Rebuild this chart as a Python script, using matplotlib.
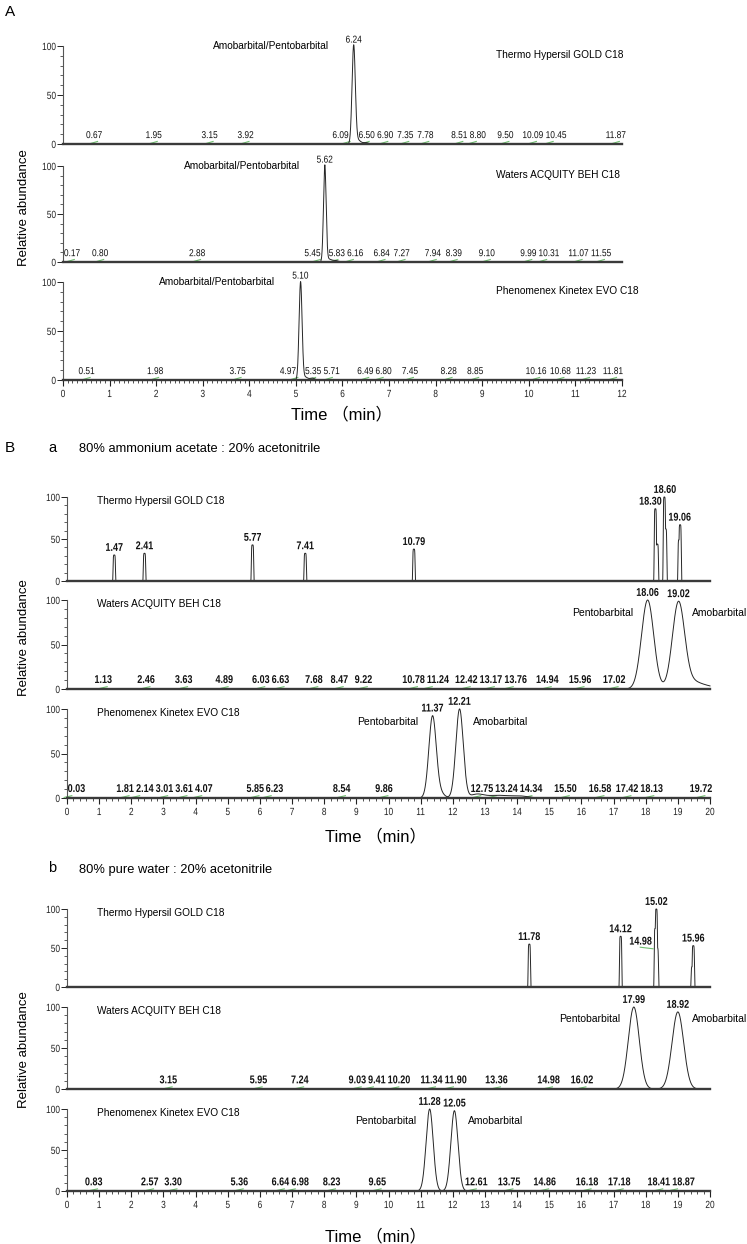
import numpy as np
import matplotlib
matplotlib.use('Agg')
import matplotlib.pyplot as plt
from matplotlib import font_manager
from matplotlib.font_manager import FontProperties
from matplotlib.ticker import MultipleLocator
from matplotlib.path import Path
from matplotlib.patheffects import AbstractPathEffect
from matplotlib.transforms import Affine2D

# ============================ DATA ============================
# ---- Panel A : 0-12 min, Amobarbital/Pentobarbital co-eluting ----
a_columns = ['Thermo Hypersil GOLD C18', 'Waters ACQUITY BEH C18', 'Phenomenex Kinetex EVO C18']
a_compound = 'Amobarbital/Pentobarbital'
a_peak_rt = [6.24, 5.62, 5.10]
a_peak_height = [100, 100, 100]
a_peak_sigma = [0.035, 0.028, 0.032]
a_tail_rt = [[6.33, 6.50], [5.70, 5.85], [5.20, 5.35]]
a_tail_height = [[4, 1.5], [3, 1.5], [3, 2]]
a_tail_sigma = [[0.06, 0.05], [0.06, 0.06], [0.05, 0.05]]
a_minor_rt = [
    [0.67, 1.95, 3.15, 3.92, 6.09, 6.50, 6.90, 7.35, 7.78, 8.51, 8.80, 9.50, 10.09, 10.45, 11.87],
    [0.17, 0.80, 2.88, 5.45, 5.83, 6.16, 6.84, 7.27, 7.94, 8.39, 9.10, 9.99, 10.31, 11.07, 11.55],
    [0.51, 1.98, 3.75, 4.97, 5.35, 5.71, 6.49, 6.80, 7.45, 8.28, 8.85, 10.16, 10.68, 11.23, 11.81],
]

# ---- Panel B a : 80% ammonium acetate ----
ba_title = '80% ammonium acetate : 20% acetonitrile'
ba_thermo_spike_rt = [1.47, 2.41, 5.77, 7.41, 10.79, 18.30, 18.36, 18.58, 18.62, 19.04, 19.07]
ba_thermo_spike_h = [31, 33, 43, 33, 38, 86, 44, 100, 62, 49, 67]
ba_thermo_label_rt = [1.47, 2.41, 5.77, 7.41, 10.79, 18.30, 18.60, 19.06]
ba_thermo_label_text = ['1.47', '2.41', '5.77', '7.41', '10.79', '18.30', '18.60', '19.06']
ba_thermo_label_h = [31, 33, 43, 33, 38, 86, 100, 67]

ba_waters_rt = [18.06, 19.02, 19.45, 19.90]
ba_waters_h = [100, 97, 7, 3]
ba_waters_sigma = [0.19, 0.19, 0.25, 0.30]
ba_waters_labels = ['18.06', '19.02']
ba_waters_minor = [1.13, 2.46, 3.63, 4.89, 6.03, 6.63, 7.68, 8.47, 9.22, 10.78, 11.24,
                   12.42, 13.17, 13.76, 14.94, 15.96, 17.02]

ba_phen_rt = [11.37, 11.62, 12.21, 12.75, 13.40, 14.10]
ba_phen_h = [92, 5, 100, 4, 3, 2]
ba_phen_sigma = [0.115, 0.12, 0.115, 0.20, 0.35, 0.25]
ba_phen_labels = ['11.37', '12.21']
ba_phen_minor = [0.03, 1.81, 2.14, 3.01, 3.61, 4.07, 5.85, 6.23, 8.54, 9.86, 12.75, 13.24,
                 14.34, 15.50, 16.58, 17.42, 18.13, 19.72]

# ---- Panel B b : 80% pure water ----
bb_title = '80% pure water : 20% acetonitrile'
bb_thermo_spike_rt = [14.38, 17.22, 18.30, 18.33, 18.36, 19.45, 19.48]
bb_thermo_spike_h = [55, 65, 75, 100, 50, 26, 53]
bb_thermo_label_rt = [14.38, 17.22, 18.28, 18.33, 19.48]
bb_thermo_label_text = ['11.78', '14.12', '14.98', '15.02', '15.96']
bb_thermo_label_h = [55, 65, 50, 100, 53]

bb_waters_rt = [17.63, 19.00]
bb_waters_h = [100, 94]
bb_waters_sigma = [0.17, 0.18]
bb_waters_labels = ['17.99', '18.92']
bb_waters_minor = [3.15, 5.95, 7.24, 9.03, 9.41, 10.20, 11.34, 11.90, 13.36, 14.98, 16.02]

bb_phen_rt = [11.28, 12.05]
bb_phen_h = [100, 98]
bb_phen_sigma = [0.11, 0.11]
bb_phen_labels = ['11.28', '12.05']
bb_phen_minor = [0.83, 2.57, 3.30, 5.36, 6.64, 6.98, 8.23, 9.65, 12.61, 13.75, 14.86,
                 16.18, 17.18, 18.41, 18.87]

b_columns = ['Thermo Hypersil GOLD C18', 'Waters ACQUITY BEH C18', 'Phenomenex Kinetex EVO C18']

# ============================ FONTS / HELPERS ============================
W, H = 747, 1244
_names = {f.name for f in font_manager.fontManager.ttflist}
SANS = 'Liberation Sans' if 'Liberation Sans' in _names else 'DejaVu Sans'


class GlyphScale(AbstractPathEffect):
    """Scale text glyphs (narrow, tall chromatography-software look)."""

    def __init__(self, sx=1.0, sy=1.0, anchor='center'):
        super().__init__()
        self.sx, self.sy, self.anchor = sx, sy, anchor

    def draw_path(self, renderer, gc, tpath, affine, rgbFace=None):
        v = tpath.vertices
        if tpath.codes is not None:
            v = v[(tpath.codes != Path.CLOSEPOLY) & (tpath.codes != Path.STOP)]
        if len(v) == 0:
            renderer.draw_path(gc, tpath, affine, rgbFace)
            return
        p = affine.transform(v)
        xs, ys = p[:, 0], p[:, 1]
        if self.anchor == 'left':
            ax0 = xs.min()
        elif self.anchor == 'right':
            ax0 = xs.max()
        else:
            ax0 = 0.5 * (xs.min() + xs.max())
        ay0 = ys.min()
        aff = affine + Affine2D().translate(-ax0, -ay0).scale(self.sx, self.sy).translate(ax0, ay0)
        renderer.draw_path(gc, tpath, aff, rgbFace)


fp_num_a = FontProperties(family=SANS, size=6.0)
fp_num_b = FontProperties(family=SANS, size=6.5, weight='bold')
fp_tick = FontProperties(family=SANS, size=7.5)
fp_name = FontProperties(family=SANS, size=7.3)
fp_comp = FontProperties(family=SANS, size=7.5)
PE_A = [GlyphScale(1.0, 1.2, 'center')]
PE_B = [GlyphScale(1.0, 1.25, 'center')]
PE_B_R = [GlyphScale(1.0, 1.25, 'right')]
GREEN = '#6fbf6f'
TRACE = '#262626'

fig = plt.figure(figsize=(W / 100, H / 100), dpi=100)
renderer = fig.canvas.get_renderer()


def rect(x0, x1, y100, y0):
    return [x0 / W, 1 - y0 / H, (x1 - x0) / W, (y0 - y100) / H]


def make_axes(xr, yr, xmax, bottom, minor_step):
    ax = fig.add_axes(rect(xr[0], xr[1], yr[0], yr[1]))
    ax.set_xlim(0, xmax)
    ax.set_ylim(0, 100)
    ax.patch.set_visible(False)
    for s in ['top', 'right']:
        ax.spines[s].set_visible(False)
    ax.spines['left'].set_linewidth(0.8)
    ax.spines['left'].set_color('#555555')
    ax.spines['bottom'].set_linewidth(1.7)
    ax.spines['bottom'].set_color('#3a3a3a')
    ax.set_yticks([0, 50, 100], ['0', '50', '100'], fontproperties=fp_tick,
                  path_effects=[GlyphScale(0.8, 1.0, 'right')])
    ax.yaxis.set_minor_locator(MultipleLocator(10))
    ax.tick_params(axis='y', which='major', length=4, width=0.7, pad=1, colors='#222222')
    ax.tick_params(axis='y', which='minor', length=2, width=0.6, colors='#444444')
    if bottom:
        ticks = list(range(0, xmax + 1))
        ax.set_xticks(ticks, [str(t) for t in ticks], fontproperties=fp_tick,
                      path_effects=[GlyphScale(0.8, 1.0, 'center')])
        ax.xaxis.set_minor_locator(MultipleLocator(minor_step))
        ax.tick_params(axis='x', which='major', length=4.5, width=0.8, pad=2, colors='#222222')
        ax.tick_params(axis='x', which='minor', length=2.5, width=0.6, colors='#333333')
    else:
        ax.set_xticks([])
        ax.xaxis.set_minor_locator(MultipleLocator(1000))
        ax.tick_params(axis='x', which='both', length=0)
    return ax


def gauss_trace(x, rts, hs, sig):
    y = np.zeros_like(x)
    for r, h, s in zip(rts, hs, sig):
        y += h * np.exp(-0.5 * ((x - r) / s) ** 2)
    return y


def spike_trace(x, rts, hs, w=0.04):
    y = np.zeros_like(x)
    for r, h in zip(rts, hs):
        y = np.maximum(y, h * np.exp(-np.abs((x - r) / w) ** 6))
    return y


def ppm_of(ax):
    return ax.transData.transform((1, 0))[0] - ax.transData.transform((0, 0))[0]


def label(ax, x, y, s, fp, pe, ha='center', dx=0.0, dy=0.0):
    return ax.annotate(s, (x, y), xytext=(dx, dy), textcoords='offset points', ha=ha,
                       va='bottom', fontproperties=fp, annotation_clip=False,
                       color='#111111', path_effects=pe)


def baseline_labels(ax, rts, fp, pe, obstacles, xmax, y=4.0, gap_px=2.0):
    texts = [ax.text(r, y, f'{r:.2f}', ha='center', va='bottom', fontproperties=fp,
                     clip_on=False, color='#111111', path_effects=pe) for r in rts]
    ppm = ppm_of(ax)
    widths = [t.get_window_extent(renderer).width / ppm for t in texts]
    gap = gap_px / ppm
    centers = []
    for r, w in zip(rts, widths):
        c = r
        for (a, b) in obstacles:
            if c + w / 2 > a and c - w / 2 < b:
                c = a - w / 2 if r < (a + b) / 2 else b + w / 2
        c = max(c, w / 2 + 0.02)
        centers.append(c)
    order = np.argsort(centers)
    prev = -np.inf
    for i in order:
        c = max(centers[i], prev + gap + widths[i] / 2)
        centers[i] = c
        prev = c + widths[i] / 2
    d = 0.12 * xmax / 20
    for t, c, r in zip(texts, centers, rts):
        t.set_x(c)
        ax.plot([r - d, r + d], [0.6, 2.6], color=GREEN, lw=0.8, clip_on=False, zorder=1)


# ============================ PANEL A ============================
A_X = (63, 622)
A_ROWS = [(46, 144), (166, 262), (282, 380)]
xa = np.linspace(0, 12, 12001)
for i in range(3):
    ax = make_axes(A_X, A_ROWS[i], 12, i == 2, 0.1)
    rts = [a_peak_rt[i]] + a_tail_rt[i]
    hs = [a_peak_height[i]] + a_tail_height[i]
    ss = [a_peak_sigma[i]] + a_tail_sigma[i]
    ax.plot(xa, gauss_trace(xa, rts, hs, ss), color=TRACE, lw=0.7, clip_on=False)
    label(ax, a_peak_rt[i], a_peak_height[i], f'{a_peak_rt[i]:.2f}', fp_num_a, PE_A, dy=1)
    ax.annotate(a_compound, (a_peak_rt[i], 100), xytext=(-18, 0), textcoords='offset points',
                ha='right', va='center', fontproperties=fp_name, annotation_clip=False)
    ax.text(9.3, 91, a_columns[i], ha='left', va='center', fontproperties=fp_name, clip_on=False)
    obst = [(a_peak_rt[i] - 3 * a_peak_sigma[i], a_peak_rt[i] + 3 * a_peak_sigma[i])]
    baseline_labels(ax, a_minor_rt[i], fp_num_a, PE_A, obst, 12)

fig.text(5 / W, 1 - 12 / H, 'A', fontsize=11, family=SANS, va='center', ha='left')
fig.text(24 / W, 1 - 208 / H, 'Relative abundance', rotation=90, fontsize=9.5, family=SANS,
         va='center', ha='center')
fig.text(342 / W, 1 - 414 / H, 'Time （min）', fontsize=12, family=[SANS, 'Noto Sans CJK SC'],
         va='center', ha='center')

# ============================ PANEL B ============================
B_X = (67, 710)
xb = np.linspace(0, 20, 20001)


def thermo_spike_axes(rows, spike_rt, spike_h, lab_rt, lab_text, lab_h, special=None):
    ax = make_axes(B_X, rows, 20, False, 0.2)
    ax.plot(xb, spike_trace(xb, spike_rt, spike_h), color=TRACE, lw=0.7, clip_on=False)
    ppm = ppm_of(ax)
    for j, (r, s, h) in enumerate(zip(lab_rt, lab_text, lab_h)):
        if special is not None and s == special:
            label(ax, r, h, s, fp_num_b, PE_B_R, ha='right', dx=-2, dy=1)
            ax.plot([r - 0.45, r - 0.05], [h + 1, h - 1], color=GREEN, lw=0.8, clip_on=False)
            continue
        t = label(ax, r, h, s, fp_num_b, PE_B, dy=1.5)
        if j + 1 < len(lab_rt) and lab_h[j + 1] > h and lab_text[j + 1] != special:
            w = t.get_window_extent(renderer).width / ppm
            nxt = lab_rt[j + 1]
            if r + w / 2 > nxt - 0.1:
                t.xy = (nxt - 0.1 - w / 2, h)
    ax.text(0.94, 95, b_columns[0], ha='left', va='center', fontproperties=fp_name)
    return ax


def broad_axes(rows, bottom, rts, hs, ss, labels, minor, col):
    ax = make_axes(B_X, rows, 20, bottom, 0.2)
    yt = gauss_trace(xb, rts, hs, ss)
    ax.plot(xb, yt, color=TRACE, lw=0.7, clip_on=False)
    main = sorted(range(len(rts)), key=lambda k: -hs[k])[:2]
    main = sorted(main, key=lambda k: rts[k])
    for k, s in zip(main, labels):
        top = yt[np.argmin(np.abs(xb - rts[k]))]
        label(ax, rts[k], top, s, fp_num_b, PE_B, dy=1.5)
    ax.annotate('Pentobarbital', (rts[main[0]], 85), xytext=(-10, 0), textcoords='offset points',
                ha='right', va='center', fontproperties=fp_comp, annotation_clip=False)
    ax.annotate('Amobarbital', (rts[main[1]], 85), xytext=(10, 0), textcoords='offset points',
                ha='left', va='center', fontproperties=fp_comp, annotation_clip=False)
    ax.text(0.94, 95, col, ha='left', va='center', fontproperties=fp_name)
    obst = [(rts[k] - 3 * ss[k], rts[k] + 3 * ss[k]) for k in main]
    baseline_labels(ax, minor, fp_num_b, PE_B, obst, 20, y=4.5)
    return ax


# ---- B a ----
thermo_spike_axes((497, 581), ba_thermo_spike_rt, ba_thermo_spike_h, ba_thermo_label_rt,
                  ba_thermo_label_text, ba_thermo_label_h)
broad_axes((600, 689), False, ba_waters_rt, ba_waters_h, ba_waters_sigma, ba_waters_labels,
           ba_waters_minor, b_columns[1])
broad_axes((709, 798), True, ba_phen_rt, ba_phen_h, ba_phen_sigma, ba_phen_labels,
           ba_phen_minor, b_columns[2])

fig.text(5 / W, 1 - 448 / H, 'B', fontsize=11, family=SANS, va='center', ha='left')
fig.text(48 / W, 1 - 448 / H, 'a', fontsize=10.5, family=SANS, va='center', ha='left')
fig.text(79 / W, 1 - 449 / H, ba_title, fontsize=9.3, family=SANS, va='center', ha='left')
fig.text(24 / W, 1 - 638 / H, 'Relative abundance', rotation=90, fontsize=9.5, family=SANS,
         va='center', ha='center')
fig.text(376 / W, 1 - 836 / H, 'Time （min）', fontsize=12, family=[SANS, 'Noto Sans CJK SC'],
         va='center', ha='center')

# ---- B b ----
thermo_spike_axes((909, 987), bb_thermo_spike_rt, bb_thermo_spike_h, bb_thermo_label_rt,
                  bb_thermo_label_text, bb_thermo_label_h, special='14.98')
broad_axes((1007, 1089), False, bb_waters_rt, bb_waters_h, bb_waters_sigma, bb_waters_labels,
           bb_waters_minor, b_columns[1])
broad_axes((1109, 1191), True, bb_phen_rt, bb_phen_h, bb_phen_sigma, bb_phen_labels,
           bb_phen_minor, b_columns[2])

fig.text(48 / W, 1 - 868 / H, 'b', fontsize=10.5, family=SANS, va='center', ha='left')
fig.text(79 / W, 1 - 870 / H, bb_title, fontsize=9.3, family=SANS, va='center', ha='left')
fig.text(24 / W, 1 - 1050 / H, 'Relative abundance', rotation=90, fontsize=9.5, family=SANS,
         va='center', ha='center')
fig.text(376 / W, 1 - 1236 / H, 'Time （min）', fontsize=12, family=[SANS, 'Noto Sans CJK SC'],
         va='center', ha='center')

fig.savefig('out.png', dpi=100, facecolor='white')
